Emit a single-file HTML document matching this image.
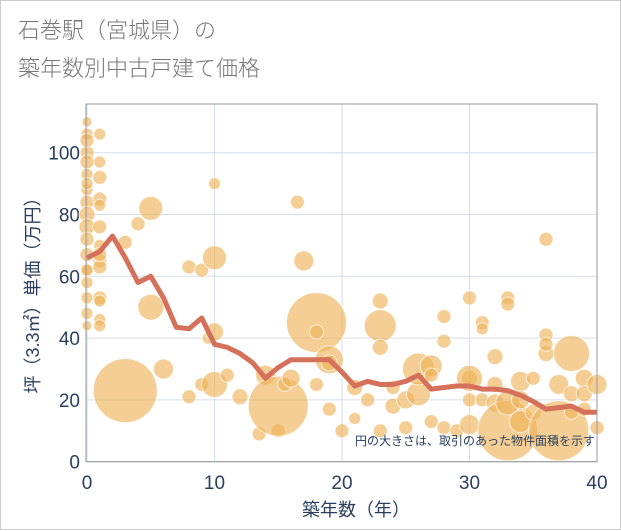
<!DOCTYPE html>
<html><head><meta charset="utf-8"><style>
body{margin:0;background:#fff;font-family:"Liberation Sans","Noto Sans CJK JP",sans-serif}
#wrap{position:relative;width:619px;height:528px;border:1px solid #ccc;background:#fff}
.t{position:absolute;left:17px;color:#777;font-size:22px;font-weight:300;font-family:"Noto Sans CJK JP",sans-serif}
</style></head><body>
<div id="wrap">
<div class="t" style="top:12px">石巻駅（宮城県）の</div>
<div class="t" style="top:50px">築年数別中古戸建て価格</div>
<svg id="c" width="621" height="530" style="position:absolute;left:0;top:0"></svg>
</div>
<script>
const xTicks=[0,10,20,30,40];
const yTicks=[0,20,40,60,80,100];
const lineX=[0,1,2,3,4,5,6,7,8,9,10,11,12,13,14,15,16,17,18,19,20,21,22,23,24,25,26,27,28,29,30,31,32,33,34,35,36,37,38,39,40];
const lineY=[66,68,73,66,58,60,53,43.5,43,46.5,38,37,35,32,27,30.5,33,33,33,33,29,24.5,26,25,25,26,28,23.5,24,24.5,24.5,23.5,23.5,23,21.5,19.5,17,17.5,18,16,16];
const bubX=[0,0,0,0,0,0,0,0,0,0,0,0,0,0,0,0,0,0,0,1,1,1,1,1,1,1,1,1,1,1,1,1,1,3,3,4,5,5,6,8,8,9,9,9.5,10,10,10,10,11,12,13.5,14,15,15,15.5,16,16.5,17,18,18,18,19,19,19,20,21,21,22,23,23,23,23,24,24,25,25,26,26,27,27,27,28,28,28,29,30,30,30,30,30,31,31,31,32,32,32,33,33,33,33,34,34,34,35,35,36,36,36,36,37,37,38,38,38,39,39,39,40,40];
const bubY=[110,106,100,97,93,88,84,80,76,72,67,62,58,53,48,44,104,90,62,106,97,92,85,83,76,70,65,63,53,52,46,44,67,23,71,77,82,50,30,63,21,62,25,40,90,66,42,25,28,21,9,28,10,18,25,27,84,65,25,45,42,33,32,17,10,14,24,20,44,52,37,10,24,18,20,11,22,30,31,28,13,47,39,11,10,53,27,27,20,12,45,43,20,34,25,19,53,51,10,19,13,26,20,16,27,35,72,41,38,25,10,22,16,35,27,17,22,25,11,28,20];
const bubR=[5,6,7,7,6,6,7,8,8,7,7,6,6,6,6,5,7,6,6,6,6,7,7,6,7,6,7,7,7,6,6,6,7,32,7,7,12,13,10,7,7,7,7,6,6,12,9,13,7,8,7,10,7,30,7,9,7,10,7,30,7,14,8,7,7,6,8,7,16,8,8,7,7,8,9,7,12,16,11,7,7,7,7,7,7,7,8,13,7,10,7,6,7,8,8,9,7,7,30,12,11,10,9,8,7,8,7,7,7,10,30,8,7,18,9,7,8,10,7,14,11];
const L=86,R=596,B=460.7,T=103;
const xs=v=>L+(v-0)/40*(R-L);
const ys=v=>B-v*3.09;
const svg=document.getElementById('c');const NS='http://www.w3.org/2000/svg';
function mk(t,a){const e=document.createElementNS(NS,t);for(const k in a)e.setAttribute(k,a[k]);svg.appendChild(e);return e;}
let e;
e=mk('rect',{x:L,y:T,width:R-L,height:B-T,fill:'#fff',stroke:'#999','stroke-width':1});


xTicks.forEach(v=>{
 e=mk('line',{x1:xs(v),x2:xs(v),y1:T,y2:B,stroke:'#d5deea','stroke-width':1});
 
 
 e=mk('text',{x:xs(v),y:488,'text-anchor':'middle','font-size':19,fill:'#2a3f5f'});e.textContent=v;
 
 
});
yTicks.forEach(v=>{
 e=mk('line',{x1:L,x2:R,y1:ys(v),y2:ys(v),stroke:'#d5deea','stroke-width':1});
 
 
 e=mk('text',{x:79,y:ys(v)+7,'text-anchor':'end','font-size':19,fill:'#2a3f5f'});e.textContent=v;
 
 
});
for(let i=0;i<bubX.length;i++){
 e=mk('circle',{cx:xs(bubX[i]),cy:ys(bubY[i]),r:bubR[i],fill:'rgba(238,180,90,0.65)',stroke:'rgba(255,255,255,0.7)','stroke-width':1});
 
 
}
e=mk('polyline',{points:lineX.map((x,i)=>xs(x)+','+ys(lineY[i])).join(' '),fill:'none',stroke:'#d5705a','stroke-width':5,'stroke-linejoin':'round'});


e=mk('rect',{x:L-1,y:T,width:R-L+1,height:B-T,fill:'none',stroke:'#999','stroke-width':1});


e=mk('text',{x:594,y:444,'text-anchor':'end','font-size':12,fill:'#2a3f5f'});e.textContent='円の大きさは、取引のあった物件面積を示す';


e=mk('text',{x:355,y:515,'text-anchor':'middle','font-size':18,fill:'#2a3f5f'});e.textContent='築年数（年）';


e=mk('text',{x:0,y:0,'text-anchor':'middle','font-size':18,fill:'#2a3f5f',transform:'translate(38,290) rotate(-90)'});e.textContent='坪（3.3㎡）単価（万円）';


</script>
</body></html>
